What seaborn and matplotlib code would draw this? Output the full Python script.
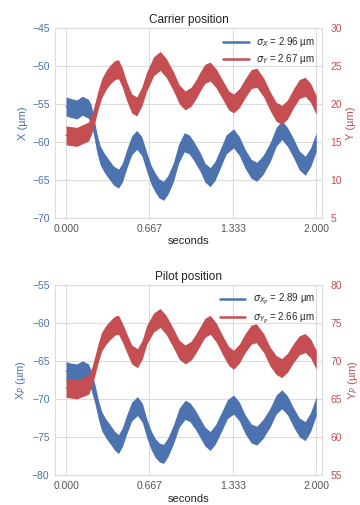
import matplotlib
matplotlib.use("Agg")
import matplotlib.pyplot as plt
from matplotlib.lines import Line2D
import seaborn as sns
import numpy as np

# =====================================================
# DATA (centre of the noisy band)
# =====================================================

# carrier, X (left axis)
carrier_x_t = [0.0, 0.04, 0.085, 0.13, 0.179, 0.2, 0.219, 0.245, 0.272, 0.305,
               0.339, 0.38, 0.419, 0.45, 0.485, 0.525, 0.565, 0.605, 0.645, 0.68,
               0.712, 0.745, 0.779, 0.815, 0.859, 0.9, 0.945, 0.985, 1.019, 1.072,
               1.11, 1.152, 1.19, 1.232, 1.28, 1.339, 1.385, 1.432, 1.48, 1.525,
               1.575, 1.632, 1.68, 1.725, 1.77, 1.819, 1.865, 1.912, 1.955, 2.0]
carrier_x = [-55.3, -55.5, -55.7, -55.2, -55.6, -56.3, -57.7, -60.0, -61.7, -62.7,
             -63.5, -64.4, -64.8, -64.0, -62.2, -60.4, -59.7, -60.5, -62.6, -64.3,
             -65.3, -66.1, -66.4, -65.6, -63.9, -61.5, -60.0, -60.3, -61.1, -62.6,
             -64.0, -64.6, -63.8, -62.2, -60.3, -59.5, -60.5, -62.2, -63.5, -63.9,
             -63.0, -61.3, -59.3, -58.4, -59.3, -60.8, -62.4, -63.1, -62.0, -60.0]

# carrier, Y (right axis)
carrier_y_t = [0.0, 0.085, 0.179, 0.205, 0.232, 0.26, 0.285, 0.32, 0.352, 0.39,
               0.419, 0.45, 0.485, 0.525, 0.565, 0.605, 0.645, 0.7, 0.752, 0.8,
               0.859, 0.905, 0.952, 1.0, 1.04, 1.072, 1.11, 1.152, 1.2, 1.259,
               1.3, 1.339, 1.385, 1.432, 1.48, 1.525, 1.58, 1.632, 1.68, 1.725,
               1.77, 1.819, 1.865, 1.912, 1.955, 2.0]
carrier_y = [15.9, 15.7, 16.4, 17.4, 19.0, 20.8, 22.1, 23.2, 23.9, 24.5,
             24.6, 23.5, 21.7, 20.1, 19.7, 21.0, 23.0, 25.0, 25.7, 24.8,
             23.0, 21.3, 20.5, 21.0, 22.0, 23.0, 24.0, 24.3, 23.4, 21.7,
             20.5, 20.1, 20.8, 22.1, 23.3, 23.5, 22.2, 20.4, 19.0, 18.6,
             19.3, 20.8, 22.0, 22.3, 21.5, 19.9]

# pilot, X_P (left axis)
pilot_x_t = [0.0, 0.04, 0.085, 0.13, 0.179, 0.2, 0.232, 0.26, 0.285, 0.32,
             0.352, 0.39, 0.419, 0.45, 0.485, 0.525, 0.571, 0.61, 0.645, 0.68,
             0.712, 0.745, 0.779, 0.815, 0.859, 0.905, 0.952, 0.99, 1.03, 1.072,
             1.11, 1.152, 1.195, 1.245, 1.29, 1.339, 1.385, 1.432, 1.48, 1.525,
             1.575, 1.632, 1.68, 1.725, 1.77, 1.819, 1.865, 1.912, 1.955, 2.0]
pilot_x = [-66.3, -66.5, -66.6, -66.2, -66.6, -67.5, -69.4, -71.5, -72.9, -73.9,
           -74.6, -75.5, -75.9, -75.0, -73.3, -71.6, -70.9, -71.8, -73.8, -75.4,
           -76.4, -77.0, -77.2, -76.3, -74.6, -72.4, -71.4, -71.7, -72.6, -73.8,
           -74.9, -75.5, -74.6, -72.9, -71.3, -70.7, -71.6, -73.3, -74.5, -74.8,
           -73.9, -72.4, -70.7, -70.0, -70.8, -72.4, -73.7, -74.2, -73.0, -70.9]

# pilot, Y_P (right axis)
pilot_y_t = [0.0, 0.085, 0.179, 0.205, 0.232, 0.26, 0.285, 0.32, 0.352, 0.39,
             0.419, 0.45, 0.485, 0.525, 0.571, 0.61, 0.645, 0.7, 0.752, 0.8,
             0.859, 0.905, 0.952, 1.0, 1.04, 1.072, 1.11, 1.152, 1.2, 1.259,
             1.3, 1.339, 1.385, 1.432, 1.48, 1.52, 1.58, 1.632, 1.68, 1.725,
             1.77, 1.819, 1.865, 1.912, 1.955, 2.0]
pilot_y = [66.5, 66.3, 66.9, 67.9, 69.5, 71.3, 72.6, 73.5, 74.1, 74.7,
           74.8, 73.8, 72.4, 70.9, 70.4, 71.6, 73.5, 75.1, 75.7, 74.8,
           73.0, 71.5, 70.9, 71.4, 72.4, 73.3, 74.4, 74.8, 73.8, 71.9,
           70.7, 70.2, 71.0, 72.4, 73.5, 73.7, 72.4, 70.6, 69.5, 69.1,
           69.8, 71.1, 72.1, 72.4, 71.7, 70.2]

# half width of the measurement noise band (µm)
noise_half = 1.25

x_ticks = [0.0, 0.667, 1.333, 2.0]
x_tick_labels = ["0.000", "0.667", "1.333", "2.000"]

# =====================================================
# STYLE
# =====================================================

sns.set_style("whitegrid")
plt.rcParams['font.family'] = ['Liberation Sans', 'DejaVu Sans']
plt.rcParams['mathtext.fontset'] = 'dejavusans'

blue = "#4C72B0"
red = "#C44E52"
grid_col = "#dcdcdc"

fig = plt.figure(figsize=(3.6, 5.05), dpi=100)

panels = [
    dict(rect=[0.153, 0.568, 0.742, 0.376], title="Carrier position",
         tx=carrier_x_t, vx=carrier_x, ty=carrier_y_t, vy=carrier_y,
         xlim=(-70, -45), ylim=(5, 30),
         xlab="X (µm)", ylab="Y (µm)",
         lx=r"$\sigma_X$ = 2.96 µm", ly=r"$\sigma_Y$ = 2.67 µm"),
    dict(rect=[0.153, 0.059, 0.742, 0.376], title="Pilot position",
         tx=pilot_x_t, vx=pilot_x, ty=pilot_y_t, vy=pilot_y,
         xlim=(-80, -55), ylim=(55, 80),
         xlab=r"X$_P$ (µm)", ylab=r"Y$_P$ (µm)",
         lx=r"$\sigma_{X_P}$ = 2.89 µm", ly=r"$\sigma_{Y_P}$ = 2.66 µm"),
]

for p in panels:

    ax = fig.add_axes(p["rect"])
    axr = ax.twinx()

    tx = np.array(p["tx"])
    vx = np.array(p["vx"])
    ty = np.array(p["ty"])
    vy = np.array(p["vy"])

    # X on the left axis
    sns.lineplot(x=tx, y=vx, ax=ax, color=blue, linewidth=1.0)
    ax.fill_between(tx, vx - noise_half, vx + noise_half, color=blue, linewidth=0)

    # Y on the right axis
    sns.lineplot(x=ty, y=vy, ax=axr, color=red, linewidth=1.0)
    axr.fill_between(ty, vy - noise_half, vy + noise_half, color=red, linewidth=0)

    ax.set_xlim(-0.088, 2.048)
    ax.set_ylim(*p["xlim"])
    axr.set_ylim(*p["ylim"])

    ax.set_xticks(x_ticks)
    ax.set_xticklabels(x_tick_labels)
    ax.set_yticks(np.arange(p["xlim"][0], p["xlim"][1] + 1, 5))
    axr.set_yticks(np.arange(p["ylim"][0], p["ylim"][1] + 1, 5))

    ax.grid(True, color=grid_col, linewidth=0.8)
    axr.grid(False)

    for a in (ax, axr):
        for s in a.spines.values():
            s.set_color(grid_col)
            s.set_linewidth(0.8)

    ax.tick_params(axis='x', labelsize=7.5, colors="#555555", length=0, pad=4)
    ax.tick_params(axis='y', labelsize=7.5, colors=blue, length=0, pad=4)
    axr.tick_params(axis='y', labelsize=7.5, colors=red, length=0, pad=6)

    ax.set_xlabel("seconds", fontsize=8, color="#222222", labelpad=2)
    ax.set_ylabel(p["xlab"], fontsize=8, color=blue, labelpad=3)
    axr.set_ylabel(p["ylab"], fontsize=8, color=red, labelpad=3)
    ax.set_title(p["title"], fontsize=8.5, color="#222222", pad=4)

    handles = [
        Line2D([0], [0], color=blue, linewidth=1.8),
        Line2D([0], [0], color=red, linewidth=1.8),
    ]
    axr.legend(
        handles,
        [p["lx"], p["ly"]],
        loc='upper right',
        frameon=False,
        fontsize=7,
        handlelength=2.6,
        borderaxespad=0.3,
        labelspacing=0.35,
    )

fig.savefig("out.png", dpi=100)
